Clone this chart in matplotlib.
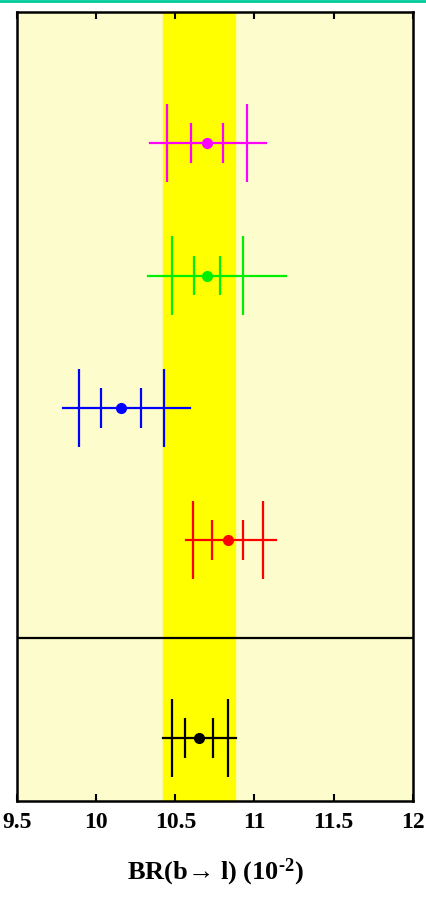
import matplotlib
matplotlib.use('Agg')
import matplotlib.pyplot as plt
from matplotlib.lines import Line2D

plt.rcParams['font.family'] = ['Liberation Serif', 'DejaVu Serif']
plt.rcParams['font.weight'] = 'bold'
plt.rcParams['mathtext.fontset'] = 'custom'
plt.rcParams['mathtext.rm'] = 'Liberation Serif:bold'
plt.rcParams['mathtext.it'] = 'Liberation Serif:bold'
plt.rcParams['mathtext.bf'] = 'Liberation Serif:bold'

# Measurements of BR(b -> l), top to bottom; last one is the average
colors = ['magenta', '#00ee00', 'blue', 'red', 'black']
central = [10.70, 10.70, 10.16, 10.83, 10.65]
# statistical interval
stat_lo = [10.60, 10.62, 10.03, 10.73, 10.56]
stat_hi = [10.80, 10.785, 10.285, 10.93, 10.74]
# experimental (stat + syst) interval
exp_lo = [10.447, 10.479, 9.892, 10.61, 10.479]
exp_hi = [10.954, 10.926, 10.426, 11.055, 10.831]
# total interval including model uncertainty
tot_lo = [10.342, 10.325, 9.793, 10.567, 10.422]
tot_hi = [11.07, 11.196, 10.595, 11.133, 10.884]

# world average band
band_lo, band_hi = 10.42, 10.88

xticks = [9.5, 10, 10.5, 11, 11.5, 12]
xticklabels = ['9.5', '10', '10.5', '11', '11.5', '12']

rows = [4.966, 3.966, 2.966, 1.97, 0.475]

fig = plt.figure(figsize=(4.27, 8.98), dpi=100)
ax = fig.add_axes([0.0398, 0.108, 0.927, 0.8786])
ax.set_facecolor('#fdfccc')
ax.axvspan(band_lo, band_hi, color='#ffff00', zorder=0)
ax.axhline(1.23, color='black', lw=1.6, zorder=1)

for i, c in enumerate(colors):
    y = rows[i]
    ax.plot([tot_lo[i], tot_hi[i]], [y, y], color=c, lw=1.6, zorder=3)
    ax.vlines([exp_lo[i], exp_hi[i]], y - 0.295, y + 0.295, color=c, lw=1.6, zorder=3)
    ax.vlines([stat_lo[i], stat_hi[i]], y - 0.15, y + 0.15, color=c, lw=1.6, zorder=3)
    ax.plot(central[i], y, 'o', color=c, ms=7, zorder=4)

ax.set_xlim(9.5, 12)
ax.set_ylim(0, 5.955)
ax.set_xticks(xticks)
ax.set_xticklabels(xticklabels, fontsize=17, fontweight='bold')
ax.set_yticks([])
ax.tick_params(axis='x', direction='in', length=5, width=1.5, top=True, pad=8)
for s in ax.spines.values():
    s.set_linewidth(1.8)
    s.set_zorder(5)

ax.set_xlabel('BR(b\u2192 l) (10$^{\\text{-}2}$)', fontsize=19, fontweight='bold', labelpad=17)

fig.add_artist(Line2D([0, 1], [0.9985, 0.9985], color='#00cc99', lw=2))

fig.savefig('out.png', dpi=100)
